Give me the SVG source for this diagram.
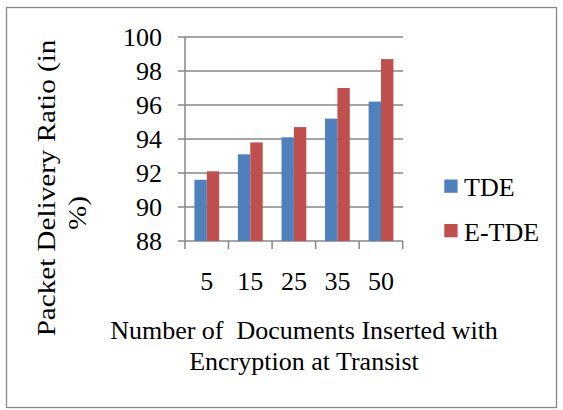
<svg xmlns="http://www.w3.org/2000/svg" width="563" height="410" viewBox="0 0 563 410">
<style>
text{font-family:"Liberation Serif","Times New Roman",serif;font-size:26px;fill:#000}
.grid{stroke:#878787;stroke-width:1.5}
.tde{fill:#4F81BD}
.etde{fill:#C0504D}
</style>
<rect x="0" y="0" width="563" height="410" fill="#fff"/>
<rect id="frame" x="6.5" y="7.5" width="550" height="400" fill="none" stroke="#888" stroke-width="1.3"/>
<g id="gridlines">
<line class="grid" x1="178" y1="37" x2="403" y2="37"/>
<line class="grid" x1="178" y1="71" x2="403" y2="71"/>
<line class="grid" x1="178" y1="105" x2="403" y2="105"/>
<line class="grid" x1="178" y1="139" x2="403" y2="139"/>
<line class="grid" x1="178" y1="173" x2="403" y2="173"/>
<line class="grid" x1="178" y1="207" x2="403" y2="207"/>
<line class="grid" x1="178" y1="241" x2="403" y2="241"/>
<line class="grid" x1="185" y1="37" x2="185" y2="249"/>
<line class="grid" x1="228.5" y1="241" x2="228.5" y2="249"/>
<line class="grid" x1="272.1" y1="241" x2="272.1" y2="249"/>
<line class="grid" x1="315.6" y1="241" x2="315.6" y2="249"/>
<line class="grid" x1="359.2" y1="241" x2="359.2" y2="249"/>
<line class="grid" x1="402.7" y1="241" x2="402.7" y2="249"/>
</g>
<g id="series-tde">
<rect class="tde" x="194.4" y="179.8" width="12.4" height="61.2"/>
<rect class="tde" x="237.9" y="154.3" width="12.4" height="86.7"/>
<rect class="tde" x="281.5" y="137.3" width="12.4" height="103.7"/>
<rect class="tde" x="325.0" y="118.6" width="12.4" height="122.4"/>
<rect class="tde" x="368.6" y="101.6" width="12.4" height="139.4"/>
</g>
<g id="series-etde">
<rect class="etde" x="206.8" y="171.3" width="12.4" height="69.7"/>
<rect class="etde" x="250.3" y="142.4" width="12.4" height="98.6"/>
<rect class="etde" x="293.9" y="127.1" width="12.4" height="113.9"/>
<rect class="etde" x="337.4" y="88" width="12.4" height="153"/>
<rect class="etde" x="381.0" y="59.1" width="12.4" height="181.9"/>
</g>
<g id="y-labels" text-anchor="end">
<text x="162" y="46">100</text>
<text x="162" y="80">98</text>
<text x="162" y="114">96</text>
<text x="162" y="148">94</text>
<text x="162" y="182">92</text>
<text x="162" y="216">90</text>
<text x="162" y="250">88</text>
</g>
<g id="x-labels" text-anchor="middle">
<text x="206.8" y="290">5</text>
<text x="250.3" y="290">15</text>
<text x="293.9" y="290">25</text>
<text x="337.4" y="290">35</text>
<text x="380.9" y="290">50</text>
</g>
<g id="y-title" text-anchor="middle">
<text transform="translate(55,188) rotate(-90) scale(1.12,1)">Packet Delivery Ratio (in</text>
<text transform="translate(86,213) rotate(-90) scale(1.12,1)">%)</text>
</g>
<g id="x-title" text-anchor="middle">
<text x="304" y="339" xml:space="preserve">Number of  Documents Inserted with</text>
<text x="304" y="370">Encryption at Transist</text>
</g>
<g id="legend">
<rect class="tde" x="444.3" y="179.5" width="13.3" height="13.3"/>
<text x="464" y="196">TDE</text>
<rect class="etde" x="444.3" y="224" width="13.3" height="13.3"/>
<text x="464" y="241">E-TDE</text>
</g>
</svg>
